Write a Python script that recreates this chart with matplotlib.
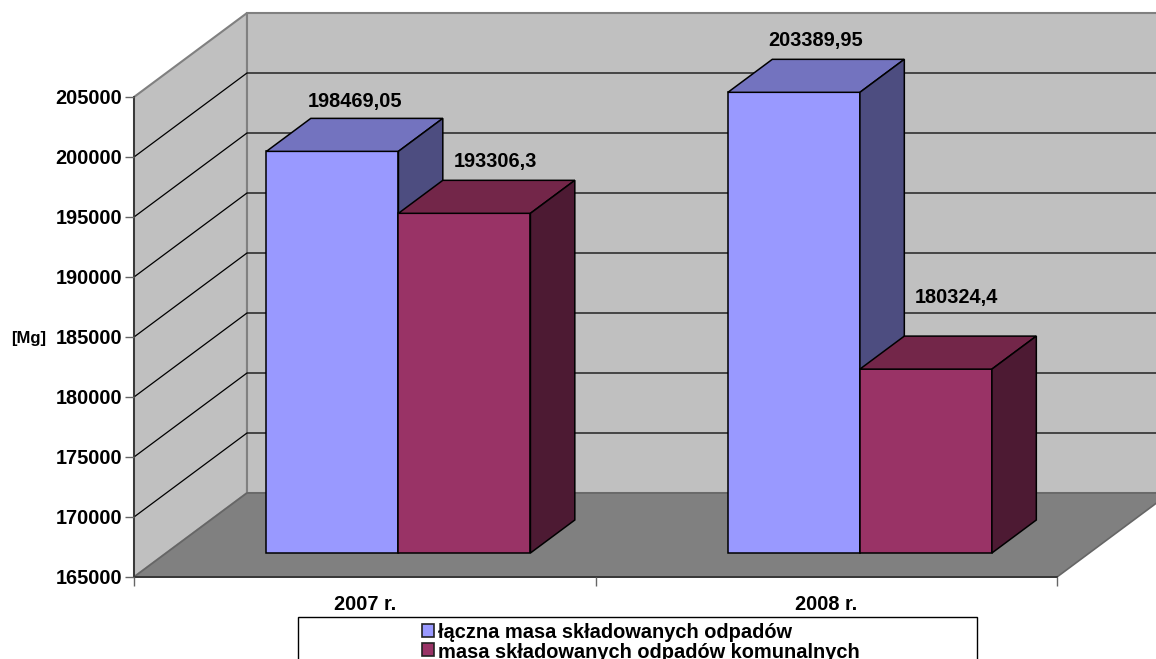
import matplotlib
matplotlib.use("Agg")
import matplotlib.pyplot as plt
from matplotlib.patches import Polygon, Rectangle

plt.rcParams["font.family"] = ["Liberation Sans", "DejaVu Sans"]
plt.rcParams["font.weight"] = "bold"

# data
years = ["2007 r.", "2008 r."]
series_names = ["łączna masa składowanych odpadów", "masa składowanych odpadów komunalnych"]
total_mass = [198469.05, 203389.95]
municipal_mass = [193306.3, 180324.4]
total_labels = ["198469,05", "203389,95"]
municipal_labels = ["193306,3", "180324,4"]
y_ticks = [165000, 170000, 175000, 180000, 185000, 190000, 195000, 200000, 205000]

W, H = 1156, 659
PX_X = 461.5       # pixels per category
PX_Y = 0.012       # pixels per Mg
DEPTH_X = 113 / PX_X
DEPTH_Y = 84 / PX_Y
BAR_W = 132 / PX_X
BAR_SHIFT = 0.003
FRONT, BACK = 24 / 84, 57 / 84

fig = plt.figure(figsize=(W / 100, H / 100), dpi=100, facecolor="white")
ax = fig.add_axes([134 / W, 1 - 577 / H, 923 / W, 480 / H])
ax.set_xlim(-0.5, 1.5)
ax.set_ylim(y_ticks[0], y_ticks[-1])
ax.patch.set_visible(False)


def proj(x, v, f):
    # slide a point of the front plane back into the box
    return (x + f * DEPTH_X, v + f * DEPTH_Y)


def poly(points, face, edge="black", lw=1.1, z=2):
    ax.add_patch(Polygon(points, closed=True, facecolor=face, edgecolor=edge,
                         linewidth=lw, clip_on=False, zorder=z, joinstyle="miter"))


v0, v1 = y_ticks[0], y_ticks[-1]
x0, x1 = -0.5, 1.5

# side wall, back wall, floor
poly([proj(x0, v0, 0), proj(x0, v1, 0), proj(x0, v1, 1), proj(x0, v0, 1)], "#C0C0C0", "#808080", 1.5, 1)
poly([proj(x0, v0, 1), proj(x0, v1, 1), proj(x1, v1, 1), proj(x1, v0, 1)], "#C0C0C0", "#808080", 1.5, 1)
poly([proj(x0, v0, 0), proj(x1, v0, 0), proj(x1, v0, 1), proj(x0, v0, 1)], "#808080", "#666666", 1.2, 1.1)

for t in y_ticks[1:-1]:
    pts = [proj(x0, t, 0), proj(x0, t, 1), proj(x1, t, 1)]
    ax.plot(*zip(*pts), color="black", lw=0.9, clip_on=False, zorder=1.2)


def bar(x, value, face, top, side):
    xl, xr = x, x + BAR_W
    poly([proj(xl, v0, FRONT), proj(xr, v0, FRONT), proj(xr, value, FRONT), proj(xl, value, FRONT)], face)
    poly([proj(xl, value, FRONT), proj(xr, value, FRONT), proj(xr, value, BACK), proj(xl, value, BACK)], top)
    poly([proj(xr, v0, FRONT), proj(xr, v0, BACK), proj(xr, value, BACK), proj(xr, value, FRONT)], side)


label_offsets = [[(23, 50), (31, 52)], [(22, 52), (31, 72)]]
for i in range(len(years)):
    x = i + BAR_SHIFT
    bar(x - BAR_W, total_mass[i], "#9999FF", "#7373BF", "#4D4D80")
    bar(x, municipal_mass[i], "#993366", "#732649", "#4D1A33")
    for xb, val, txt, off in [(x - BAR_W, total_mass[i], total_labels[i], label_offsets[i][0]),
                              (x, municipal_mass[i], municipal_labels[i], label_offsets[i][1])]:
        ax.annotate(txt, xy=proj(xb + BAR_W / 2, val, FRONT), xytext=off,
                    textcoords="offset pixels", ha="center", va="center",
                    fontsize=14.4, color="black", zorder=5, annotation_clip=False)

# axes
for s in ["top", "right"]:
    ax.spines[s].set_visible(False)
for s in ["left", "bottom"]:
    ax.spines[s].set_color("#333333")
    ax.spines[s].set_linewidth(1.3)
    ax.spines[s].set_zorder(1.5)
ax.set_yticks(y_ticks)
ax.set_yticklabels([str(t) for t in y_ticks])
ax.tick_params(axis="y", length=6.5, width=1, color="#666666", pad=2, labelsize=14.4)
ax.set_xticks([-0.5, 0.5, 1.5])
ax.set_xticklabels([])
ax.tick_params(axis="x", which="major", length=6.5, width=1, color="#666666")
ax.set_xticks([0, 1], minor=True)
ax.set_xticklabels(years, minor=True)
ax.tick_params(axis="x", which="minor", length=0, pad=13, labelsize=14.4)

fig.text(29 / W, 1 - 339 / H, "[Mg]", fontsize=12, ha="center", va="center")

# legend box runs off the bottom edge of the picture
fig.patches.append(Rectangle((298 / W, -0.02), 679 / W, 1 - 617.5 / H + 0.02, transform=fig.transFigure,
                             facecolor="white", edgecolor="black", linewidth=1))
for name, color, y, ty in zip(series_names, ["#9999FF", "#993366"], [630.5, 649.5], [632, 652.5]):
    fig.patches.append(Rectangle((421.5 / W, 1 - (y + 6.5) / H), 12 / W, 13 / H, transform=fig.transFigure,
                                 facecolor=color, edgecolor="#222222", linewidth=1.2))
    fig.text(438 / W, 1 - ty / H, name, fontsize=14.4, ha="left", va="center")

fig.savefig("out.png", dpi=100)
